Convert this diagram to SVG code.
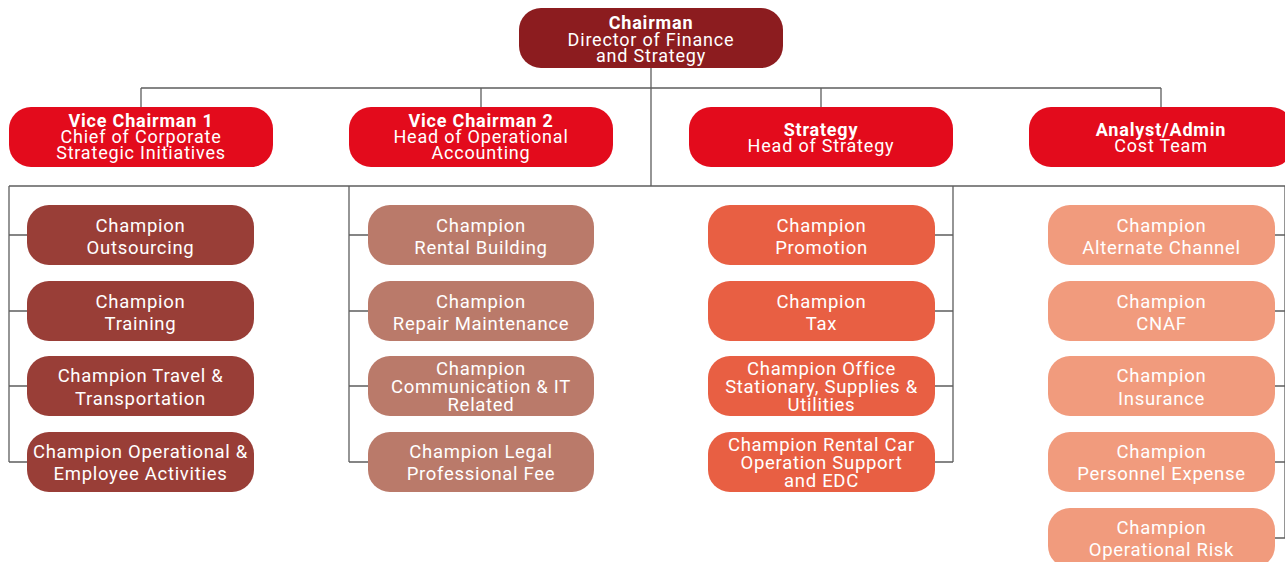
<svg xmlns="http://www.w3.org/2000/svg" width="1285" height="562" viewBox="0 0 1285 562">
<style>
.ln{stroke:#5e5e5e;stroke-width:1.3;fill:none}
.t{font-family:Roboto,"Liberation Sans",sans-serif;fill:#fff;text-anchor:middle}
.h{font-size:18px;letter-spacing:0.8px}
.b{font-weight:bold}
.c{font-size:18.5px;letter-spacing:0.7px}
.ch{fill:#8c1c1f}
.vc{fill:#e30b1c}
.g1{fill:#993e37}
.g2{fill:#ba7a6a}
.g3{fill:#e85f43}
.g4{fill:#f19b7d}
</style>
<g id="connectors">
<path class="ln" d="M651 68V186M141 88H1161M141 88V107M481 88V107M821 88V107M1161 88V107"/>
<path class="ln" d="M9 186H1285"/>
<path class="ln" d="M9 186V462M9 235H27M9 311H27M9 386H27M9 462H27"/>
<path class="ln" d="M349 186V462M349 235H368M349 311H368M349 386H368M349 462H368"/>
<path class="ln" d="M953 186V462M935 235H953M935 311H953M935 386H953M935 462H953"/>
<path class="ln" d="M1285 186V538M1275 235H1285M1275 311H1285M1275 386H1285M1275 462H1285M1275 538H1285"/>
</g>
<g id="chairman">
<rect class="ch" x="519" y="8" width="264" height="60" rx="22"/>
<text class="t h b" x="651" y="29">Chairman</text>
<text class="t h" x="651" y="45.5">Director of Finance</text>
<text class="t h" x="651" y="62">and Strategy</text>
</g>
<g id="vc1">
<rect class="vc" x="9" y="107" width="264" height="60" rx="22"/>
<text class="t h b" x="141" y="127">Vice Chairman 1</text>
<text class="t h" x="141" y="143">Chief of Corporate</text>
<text class="t h" x="141" y="159">Strategic Initiatives</text>
</g>
<g id="vc2">
<rect class="vc" x="349" y="107" width="264" height="60" rx="22"/>
<text class="t h b" x="481" y="127">Vice Chairman 2</text>
<text class="t h" x="481" y="143">Head of Operational</text>
<text class="t h" x="481" y="159">Accounting</text>
</g>
<g id="strategy">
<rect class="vc" x="689" y="107" width="264" height="60" rx="22"/>
<text class="t h b" x="821" y="136">Strategy</text>
<text class="t h" x="821" y="152">Head of Strategy</text>
</g>
<g id="analyst">
<rect class="vc" x="1029" y="107" width="264" height="60" rx="22"/>
<text class="t h b" x="1161" y="136">Analyst/Admin</text>
<text class="t h" x="1161" y="152">Cost Team</text>
</g>
<g id="g1-outsourcing">
<rect class="g1" x="27" y="205" width="227" height="60" rx="22"/>
<text class="t c" x="140.5" y="232">Champion</text>
<text class="t c" x="140.5" y="254">Outsourcing</text>
</g>
<g id="g1-training">
<rect class="g1" x="27" y="281" width="227" height="60" rx="22"/>
<text class="t c" x="140.5" y="308">Champion</text>
<text class="t c" x="140.5" y="330">Training</text>
</g>
<g id="g1-travel">
<rect class="g1" x="27" y="356" width="227" height="60" rx="22"/>
<text class="t c" x="140.5" y="382">Champion Travel &amp;</text>
<text class="t c" x="140.5" y="405">Transportation</text>
</g>
<g id="g1-operational">
<rect class="g1" x="27" y="432" width="227" height="60" rx="22"/>
<text class="t c" x="140.5" y="458">Champion Operational &amp;</text>
<text class="t c" x="140.5" y="480">Employee Activities</text>
</g>
<g id="g2-rental">
<rect class="g2" x="368" y="205" width="226" height="60" rx="22"/>
<text class="t c" x="481" y="232">Champion</text>
<text class="t c" x="481" y="254">Rental Building</text>
</g>
<g id="g2-repair">
<rect class="g2" x="368" y="281" width="226" height="60" rx="22"/>
<text class="t c" x="481" y="308">Champion</text>
<text class="t c" x="481" y="330">Repair Maintenance</text>
</g>
<g id="g2-communication">
<rect class="g2" x="368" y="356" width="226" height="60" rx="22"/>
<text class="t c" x="481" y="375">Champion</text>
<text class="t c" x="481" y="393">Communication &amp; IT</text>
<text class="t c" x="481" y="411">Related</text>
</g>
<g id="g2-legal">
<rect class="g2" x="368" y="432" width="226" height="60" rx="22"/>
<text class="t c" x="481" y="458">Champion Legal</text>
<text class="t c" x="481" y="480">Professional Fee</text>
</g>
<g id="g3-promotion">
<rect class="g3" x="708" y="205" width="227" height="60" rx="22"/>
<text class="t c" x="821.5" y="232">Champion</text>
<text class="t c" x="821.5" y="254">Promotion</text>
</g>
<g id="g3-tax">
<rect class="g3" x="708" y="281" width="227" height="60" rx="22"/>
<text class="t c" x="821.5" y="308">Champion</text>
<text class="t c" x="821.5" y="330">Tax</text>
</g>
<g id="g3-office">
<rect class="g3" x="708" y="356" width="227" height="60" rx="22"/>
<text class="t c" x="821.5" y="375">Champion Office</text>
<text class="t c" x="821.5" y="393">Stationary, Supplies &amp;</text>
<text class="t c" x="821.5" y="411">Utilities</text>
</g>
<g id="g3-rentalcar">
<rect class="g3" x="708" y="432" width="227" height="60" rx="22"/>
<text class="t c" x="821.5" y="451">Champion Rental Car</text>
<text class="t c" x="821.5" y="469">Operation Support</text>
<text class="t c" x="821.5" y="487">and EDC</text>
</g>
<g id="g4-alternate">
<rect class="g4" x="1048" y="205" width="227" height="60" rx="22"/>
<text class="t c" x="1161.5" y="232">Champion</text>
<text class="t c" x="1161.5" y="254">Alternate Channel</text>
</g>
<g id="g4-cnaf">
<rect class="g4" x="1048" y="281" width="227" height="60" rx="22"/>
<text class="t c" x="1161.5" y="308">Champion</text>
<text class="t c" x="1161.5" y="330">CNAF</text>
</g>
<g id="g4-insurance">
<rect class="g4" x="1048" y="356" width="227" height="60" rx="22"/>
<text class="t c" x="1161.5" y="382">Champion</text>
<text class="t c" x="1161.5" y="405">Insurance</text>
</g>
<g id="g4-personnel">
<rect class="g4" x="1048" y="432" width="227" height="60" rx="22"/>
<text class="t c" x="1161.5" y="458">Champion</text>
<text class="t c" x="1161.5" y="480">Personnel Expense</text>
</g>
<g id="g4-risk">
<rect class="g4" x="1048" y="508" width="227" height="60" rx="22"/>
<text class="t c" x="1161.5" y="534">Champion</text>
<text class="t c" x="1161.5" y="556">Operational Risk</text>
</g>
</svg>
